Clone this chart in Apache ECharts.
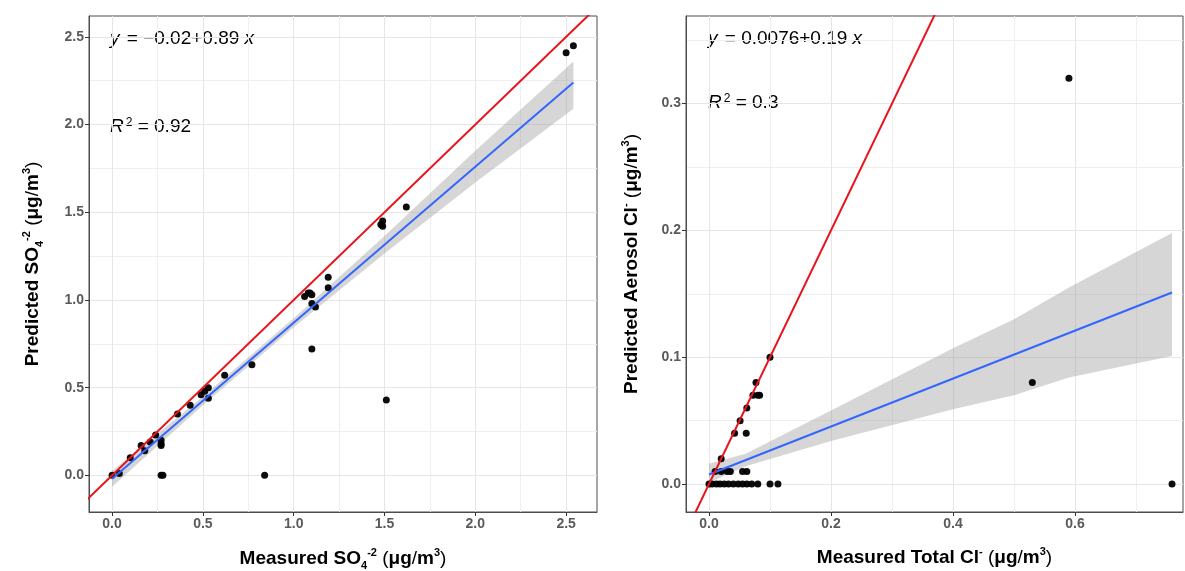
<!DOCTYPE html>
<html>
<head>
<meta charset="utf-8">
<script src="https://cdn.jsdelivr.net/npm/echarts@6/dist/echarts.min.js"></script>
<style>
html,body{margin:0;padding:0;background:#fff;}
#chart{width:1185px;height:571px;}
</style>
</head>
<body>
<div id="chart"></div>
<script>
// ---------- Left panel: sulfate ----------
const so4Points = [
  [0,0],[0.04,0.01],[0.10,0.10],[0.16,0.17],[0.18,0.14],[0.21,0.19],[0.24,0.23],
  [0.27,0.20],[0.27,0.18],[0.27,0.17],[0.27,0.0],[0.28,0.0],[0.36,0.35],[0.43,0.40],
  [0.49,0.46],[0.51,0.48],[0.53,0.50],[0.53,0.44],[0.62,0.57],[0.77,0.63],[0.84,0.0],
  [1.06,1.02],[1.08,1.04],[1.09,1.04],[1.10,1.03],[1.10,0.98],[1.12,0.96],[1.10,0.72],
  [1.19,1.13],[1.19,1.07],[1.51,0.43],[1.48,1.43],[1.49,1.45],[1.49,1.42],[1.62,1.53],
  [2.50,2.41],[2.54,2.45]
];
const so4FitX = [0, 2.54];
const so4FitY = [-0.02, 2.24];
const so4BandX = [0, 0.5, 1.0, 1.5, 2.0, 2.54];
const so4BandLow = [-0.065, 0.40, 0.845, 1.265, 1.67, 2.09];
const so4BandHigh = [0.025, 0.45, 0.895, 1.365, 1.85, 2.36];
const so4Range = {xMin: -0.127, xMax: 2.67, yMin: -0.209, yMax: 2.619};
const so4Ticks = [0, 0.5, 1.0, 1.5, 2.0, 2.5];
const so4Minor = [0.25, 0.75, 1.25, 1.75, 2.25];
const so4EqParts = ['y', ' = −0.02+0.89 ', 'x'];
const so4R2 = '0.92';

// ---------- Right panel: chloride ----------
const clPoints = [
  [0.10,0.10],[0.077,0.08],[0.08,0.07],[0.083,0.07],[0.072,0.07],[0.062,0.06],[0.051,0.05],
  [0.042,0.04],[0.061,0.04],[0.02,0.02],[0.01,0.01],[0.02,0.01],[0.03,0.01],[0.035,0.01],
  [0.055,0.01],[0.062,0.01],
  [0,0],[0.005,0],[0.012,0],[0.018,0],[0.025,0],[0.032,0],[0.04,0],[0.048,0],[0.055,0],
  [0.062,0],[0.07,0],[0.08,0],[0.10,0],[0.113,0],
  [0.59,0.32],[0.53,0.08],[0.759,0]
];
const clFitX = [0, 0.759];
const clFitY = [0.0076, 0.151];
const clBandX = [0, 0.06, 0.2, 0.4, 0.5, 0.59, 0.759];
const clBandLow = [0.001, 0.014, 0.034, 0.059, 0.070, 0.084, 0.101];
const clBandHigh = [0.016, 0.024, 0.058, 0.107, 0.130, 0.155, 0.198];
const clRange = {xMin: -0.0377, xMax: 0.777, yMin: -0.022, yMax: 0.369};
const clXTicks = [0, 0.2, 0.4, 0.6];
const clXMinor = [0.1, 0.3, 0.5, 0.7];
const clYTicks = [0, 0.1, 0.2, 0.3];
const clYMinor = [0.05, 0.15, 0.25, 0.35];
const clEqParts = ['y', ' = 0.0076+0.19 ', 'x'];
const clR2 = '0.3';

// ---------- build ----------
const FONT = 'Liberation Sans';
const chart = echarts.init(document.getElementById('chart'));

const nameRich = {
  b: {fontFamily: FONT, fontWeight: 'bold', fontSize: 19, color: '#000', lineHeight: 24, verticalAlign: 'middle'},
  n: {fontFamily: FONT, fontWeight: 'normal', fontSize: 19, color: '#000', lineHeight: 24, verticalAlign: 'middle'},
  sub: {fontFamily: FONT, fontWeight: 'bold', fontSize: 11, color: '#000', lineHeight: 24, verticalAlign: 'bottom'},
  sup: {fontFamily: FONT, fontWeight: 'bold', fontSize: 11, color: '#000', lineHeight: 24, verticalAlign: 'top'}
};

function valueAxis(gridIndex, dim, range, ticks, name, gap) {
  const isX = dim === 'x';
  return {
    type: 'value', gridIndex,
    min: isX ? range.xMin : range.yMin,
    max: isX ? range.xMax : range.yMax,
    position: isX ? 'bottom' : 'left',
    name, nameLocation: 'middle', nameGap: gap, nameRotate: isX ? 0 : 90,
    nameTextStyle: {rich: nameRich},
    axisLine: {show: true, onZero: false, lineStyle: {color: '#4d4d4d', width: 1}},
    axisTick: {show: true, length: 4, customValues: ticks, lineStyle: {color: '#333', width: 1}},
    axisLabel: {show: true, customValues: ticks, margin: 5, fontFamily: FONT, fontWeight: 'bold', fontSize: 14, color: '#5a5a5a',
      formatter: v => v.toFixed(1)},
    splitLine: {show: true, lineStyle: {color: '#e6e6e6', width: 1}},
    z: 1
  };
}
function minorAxis(gridIndex, dim, range, minor) {
  const isX = dim === 'x';
  return {
    type: 'value', gridIndex,
    min: isX ? range.xMin : range.yMin,
    max: isX ? range.xMax : range.yMax,
    position: isX ? 'top' : 'right',
    axisLine: {show: false}, axisLabel: {show: false},
    axisTick: {show: false, customValues: minor},
    splitLine: {show: true, lineStyle: {color: '#efefef', width: 1}},
    z: 0
  };
}

function bandSeries(xi, yi, bx, lo, hi) {
  return {
    type: 'custom', xAxisIndex: xi, yAxisIndex: yi, silent: true,
    data: bx.map((x, i) => [x, lo[i], hi[i]]),
    encode: {x: 0, y: [1, 2]},
    renderItem: (params, api) => {
      if (params.dataIndex !== 0) return null;
      const pts = [];
      for (let i = 0; i < bx.length; i++) pts.push(api.coord([bx[i], hi[i]]));
      for (let i = bx.length - 1; i >= 0; i--) pts.push(api.coord([bx[i], lo[i]]));
      return {type: 'polygon', shape: {points: pts}, style: {fill: 'rgba(153,153,153,0.4)'}};
    }
  };
}
function scatterSeries(xi, yi, pts) {
  return {type: 'scatter', xAxisIndex: xi, yAxisIndex: yi, data: pts, symbolSize: 7,
    itemStyle: {color: '#000', opacity: 0.95}, silent: true};
}
function fitSeries(xi, yi, fx, fy) {
  return {type: 'line', xAxisIndex: xi, yAxisIndex: yi, data: fx.map((x, i) => [x, fy[i]]),
    showSymbol: false, lineStyle: {color: '#3366FF', width: 2}, silent: true};
}
function identitySeries(xi, yi, range) {
  const lo = Math.min(range.xMin, range.yMin), hi = Math.max(range.xMax, range.yMax);
  return {type: 'line', xAxisIndex: xi, yAxisIndex: yi, data: [[lo, lo], [hi, hi]], clip: true,
    showSymbol: false, lineStyle: {color: '#E8141C', width: 2}, silent: true};
}

const eqRich = {
  t: {fontFamily: FONT, fontSize: 19, color: '#1a1a1a'},
  i: {fontFamily: FONT, fontSize: 19, fontStyle: 'italic', color: '#1a1a1a', padding: [0, 2, 0, 0]},
  sup: {fontFamily: FONT, fontSize: 12, color: '#1a1a1a', verticalAlign: 'top'}
};
function eqText(parts) {
  return '{i|' + parts[0] + '}{t|' + parts[1] + '}{i|' + parts[2] + '}';
}

const option = {
  animation: false,
  backgroundColor: '#fff',
  grid: [
    {left: 89, top: 16, width: 508, height: 496, show: true, borderColor: '#4d4d4d', borderWidth: 1, backgroundColor: '#fff',
      containLabel: false, outerBoundsMode: 'none'},
    {left: 686, top: 16, width: 497, height: 496, show: true, borderColor: '#4d4d4d', borderWidth: 1, backgroundColor: '#fff',
      containLabel: false, outerBoundsMode: 'none'}
  ],
  xAxis: [
    valueAxis(0, 'x', so4Range, so4Ticks, '{b|Measured SO}{sub|4}{sup|-2}{n| (}{b|μg}{n|/}{b|m}{sup|3}{n|)}', 35),
    valueAxis(1, 'x', clRange, clXTicks, '{b|Measured Total Cl}{sup|-}{n| (}{b|μg}{n|/}{b|m}{sup|3}{n|)}', 34),
    minorAxis(0, 'x', so4Range, so4Minor),
    minorAxis(1, 'x', clRange, clXMinor)
  ],
  yAxis: [
    valueAxis(0, 'y', so4Range, so4Ticks, '{b|Predicted SO}{sub|4}{sup|-2}{n| (}{b|μg}{n|/}{b|m}{sup|3}{n|)}', 44),
    valueAxis(1, 'y', clRange, clYTicks, '{b|Predicted Aerosol Cl}{sup|-}{n| (}{b|μg}{n|/}{b|m}{sup|3}{n|)}', 42),
    minorAxis(0, 'y', so4Range, so4Minor),
    minorAxis(1, 'y', clRange, clYMinor)
  ],
  graphic: [
    {type: 'text', left: 110, top: 29, style: {text: eqText(so4EqParts), rich: eqRich}},
    {type: 'text', left: 110, top: 117, style: {text: '{i|R}{sup|2}{t| = ' + so4R2 + '}', rich: eqRich}},
    {type: 'text', left: 708, top: 29, style: {text: eqText(clEqParts), rich: eqRich}},
    {type: 'text', left: 708, top: 93, style: {text: '{i|R}{sup|2}{t| = ' + clR2 + '}', rich: eqRich}}
  ],
  series: [
    scatterSeries(0, 0, so4Points),
    bandSeries(0, 0, so4BandX, so4BandLow, so4BandHigh),
    fitSeries(0, 0, so4FitX, so4FitY),
    identitySeries(0, 0, so4Range),
    scatterSeries(1, 1, clPoints),
    bandSeries(1, 1, clBandX, clBandLow, clBandHigh),
    fitSeries(1, 1, clFitX, clFitY),
    identitySeries(1, 1, clRange)
  ]
};
chart.setOption(option);
</script>
</body>
</html>
